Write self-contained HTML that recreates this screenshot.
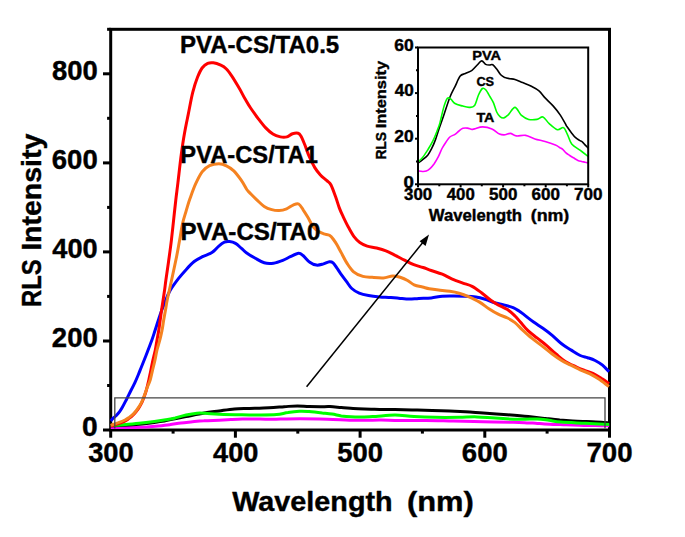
<!DOCTYPE html>
<html><head><meta charset="utf-8"><title>RLS Intensity</title>
<style>
html,body{margin:0;padding:0;background:#fff;}
body{width:685px;height:537px;overflow:hidden;}
svg{display:block;}
text{font-family:"Liberation Sans",sans-serif;font-weight:bold;fill:#000;stroke:#000;stroke-width:0.4px;stroke-linejoin:round;}
</style></head><body>
<svg width="685" height="537" viewBox="0 0 685 537">
<rect width="685" height="537" fill="#fff"/>

<g stroke="#000" stroke-width="3" fill="none">
<rect x="110.7" y="29.3" width="498.8" height="400.7"/>
<line x1="103.0" y1="430.0" x2="110.7" y2="430.0"/>
<line x1="107.1" y1="385.5" x2="110.7" y2="385.5"/>
<line x1="103.0" y1="341.0" x2="110.7" y2="341.0"/>
<line x1="107.1" y1="296.4" x2="110.7" y2="296.4"/>
<line x1="103.0" y1="251.9" x2="110.7" y2="251.9"/>
<line x1="107.1" y1="207.4" x2="110.7" y2="207.4"/>
<line x1="103.0" y1="162.9" x2="110.7" y2="162.9"/>
<line x1="107.1" y1="118.3" x2="110.7" y2="118.3"/>
<line x1="103.0" y1="73.8" x2="110.7" y2="73.8"/>
<line x1="107.1" y1="29.3" x2="110.7" y2="29.3"/>
<line x1="110.7" y1="430.0" x2="110.7" y2="437.7"/>
<line x1="173.1" y1="430.0" x2="173.1" y2="433.6"/>
<line x1="235.4" y1="430.0" x2="235.4" y2="437.7"/>
<line x1="297.8" y1="430.0" x2="297.8" y2="433.6"/>
<line x1="360.1" y1="430.0" x2="360.1" y2="437.7"/>
<line x1="422.4" y1="430.0" x2="422.4" y2="433.6"/>
<line x1="484.8" y1="430.0" x2="484.8" y2="437.7"/>
<line x1="547.1" y1="430.0" x2="547.1" y2="433.6"/>
<line x1="609.5" y1="430.0" x2="609.5" y2="437.7"/>
</g>
<g fill="none" stroke-width="3" stroke-linejoin="round" stroke-linecap="butt">
<path d="M110.7,427.4 C112.8,427.4 119.5,427.5 123.6,427.5 C127.6,427.5 131.2,427.5 135.0,427.4 C138.9,427.3 142.9,427.1 146.7,426.9 C150.6,426.6 154.4,426.3 158.2,426.0 C162.0,425.6 165.8,425.2 169.6,424.7 C173.4,424.2 177.2,423.5 181.0,423.0 C184.8,422.5 188.7,422.2 192.5,421.8 C196.3,421.4 199.5,421.0 203.9,420.8 C208.3,420.5 214.6,420.4 219.1,420.2 C223.6,420.0 227.0,419.8 230.9,419.6 C234.7,419.4 238.2,419.2 242.3,419.1 C246.4,419.0 251.0,419.0 255.5,419.0 C259.9,419.1 265.5,419.3 269.0,419.3 C272.4,419.3 270.8,419.3 276.0,419.2 C281.2,419.1 291.5,418.8 300.0,418.8 C308.6,418.8 319.0,419.0 327.3,419.2 C335.5,419.4 343.1,420.0 349.5,420.2 C356.0,420.4 360.7,420.4 366.0,420.3 C371.2,420.3 375.7,420.0 381.2,420.1 C386.7,420.1 391.6,420.5 399.1,420.5 C406.6,420.6 417.0,420.4 426.0,420.5 C435.1,420.5 443.8,420.9 453.3,421.1 C462.8,421.3 473.2,421.5 483.2,421.7 C493.2,421.9 506.1,422.1 513.4,422.3 C520.7,422.5 523.1,422.7 526.9,422.9 C530.6,423.0 532.7,423.1 535.6,423.2 C538.6,423.4 541.2,423.7 544.4,423.9 C547.7,424.1 551.7,424.2 555.3,424.4 C558.9,424.5 562.1,424.7 566.1,424.8 C570.1,425.0 575.3,425.2 579.3,425.3 C583.3,425.5 586.5,425.5 590.2,425.5 C593.8,425.6 597.8,425.6 601.0,425.7 C604.2,425.7 607.8,425.8 609.2,425.8" stroke="#ff00ff"/>
<path d="M110.7,425.8 C112.8,425.7 118.9,425.5 123.6,425.2 C128.3,425.0 134.6,424.7 139.1,424.3 C143.6,424.0 146.7,423.6 150.6,423.0 C154.4,422.5 158.2,422.0 162.0,421.3 C165.8,420.6 169.4,419.7 173.4,419.0 C177.4,418.2 180.9,417.6 186.0,416.6 C191.1,415.6 198.7,413.9 204.2,413.0 C209.7,412.0 214.1,411.6 219.1,410.9 C224.2,410.2 229.3,409.3 234.4,408.9 C239.5,408.4 243.9,408.6 249.6,408.4 C255.4,408.2 263.2,408.0 269.0,407.7 C274.7,407.5 279.5,407.0 284.2,406.7 C288.9,406.4 293.2,405.9 297.4,405.9 C301.5,405.9 305.2,406.5 309.1,406.6 C313.0,406.7 317.1,406.7 320.5,406.7 C324.0,406.7 326.4,406.5 329.9,406.6 C333.4,406.8 337.5,407.2 341.3,407.5 C345.2,407.8 349.2,408.3 353.1,408.6 C356.9,408.9 360.1,409.0 364.5,409.1 C368.9,409.3 374.7,409.3 379.7,409.4 C384.8,409.4 388.7,409.4 395.0,409.5 C401.2,409.6 409.5,409.9 417.2,410.1 C425.0,410.4 433.3,410.5 441.3,410.8 C449.3,411.1 458.3,411.4 465.3,411.7 C472.3,412.1 476.2,412.6 483.2,413.1 C490.2,413.6 499.7,414.2 507.2,414.7 C514.7,415.3 522.1,415.9 528.3,416.5 C534.5,417.2 541.1,418.0 544.4,418.4 C547.8,418.8 546.0,418.6 548.5,418.8 C551.1,419.1 555.7,419.5 559.7,419.9 C563.7,420.2 568.6,420.6 572.6,420.9 C576.6,421.2 580.4,421.3 583.7,421.4 C587.0,421.5 589.3,421.5 592.2,421.7 C595.1,421.9 598.2,422.1 601.0,422.3 C603.8,422.6 607.8,422.8 609.2,422.9" stroke="#000"/>
<path d="M110.7,425.6 C112.8,425.5 118.9,425.2 123.6,424.8 C128.3,424.4 134.0,423.9 139.1,423.3 C144.3,422.8 149.9,422.1 154.4,421.5 C158.8,420.9 162.3,420.3 165.8,419.7 C169.3,419.1 171.8,418.7 175.2,418.0 C178.5,417.2 182.4,415.8 186.0,415.0 C189.6,414.2 193.3,413.5 196.9,413.2 C200.4,412.9 203.4,413.2 207.1,413.4 C210.8,413.6 213.3,414.0 219.1,414.2 C224.9,414.4 235.0,414.6 242.0,414.7 C249.0,414.9 255.3,415.0 261.0,415.0 C266.8,415.0 272.1,415.0 276.6,414.6 C281.1,414.2 284.2,413.1 288.0,412.6 C291.8,412.0 295.9,411.5 299.4,411.3 C303.0,411.1 305.3,411.3 309.1,411.5 C312.9,411.8 318.5,412.5 322.3,413.0 C326.1,413.4 328.8,413.6 332.0,414.1 C335.1,414.6 338.2,415.4 341.3,415.9 C344.5,416.3 347.5,416.6 351.0,416.8 C354.5,417.0 358.3,417.1 362.4,417.0 C366.6,417.0 370.5,416.7 375.9,416.4 C381.3,416.0 388.6,415.0 395.0,415.0 C401.3,415.0 407.3,416.2 414.0,416.5 C420.7,416.9 427.6,417.2 435.1,417.3 C442.6,417.5 452.2,417.4 459.2,417.3 C466.1,417.2 471.0,416.7 477.0,416.9 C483.0,417.0 488.2,417.7 495.2,418.1 C502.2,418.6 512.3,419.2 519.2,419.3 C526.2,419.5 532.1,418.8 537.1,418.9 C542.1,419.1 545.1,419.8 549.1,420.3 C553.1,420.9 555.1,421.6 561.1,422.1 C567.2,422.6 577.5,422.9 585.5,423.3 C593.5,423.7 605.3,424.4 609.2,424.6" stroke="#00ff00"/>
<path d="M110.8,420.9 C111.2,420.5 112.0,419.3 112.9,418.4 C113.8,417.5 115.2,416.7 116.3,415.5 C117.4,414.3 118.8,412.7 119.8,411.3 C120.8,409.9 121.3,409.1 122.5,407.0 C123.7,404.9 125.3,401.7 126.7,399.0 C128.1,396.3 129.4,393.5 130.8,390.8 C132.2,388.1 133.6,385.4 134.9,382.6 C136.2,379.8 137.6,376.4 138.6,374.0 C139.6,371.6 140.2,370.0 141.0,368.0 C141.8,366.0 142.6,364.0 143.4,362.0 C144.2,360.0 145.0,358.0 145.8,356.0 C146.6,354.0 147.1,352.7 148.1,350.0 C149.1,347.3 150.7,343.3 151.9,340.0 C153.1,336.7 154.1,333.3 155.2,330.0 C156.3,326.7 157.3,323.3 158.4,320.0 C159.5,316.7 160.6,313.3 161.8,310.0 C163.0,306.7 164.7,302.7 165.8,300.0 C166.9,297.3 167.3,296.0 168.3,294.0 C169.3,292.0 170.1,290.4 171.8,287.8 C173.5,285.2 176.0,281.7 178.4,278.6 C180.8,275.5 183.7,272.2 186.3,269.4 C188.9,266.5 191.6,263.6 194.2,261.5 C196.8,259.4 199.4,258.2 202.0,256.9 C204.6,255.6 207.9,254.7 209.9,253.7 C211.9,252.7 212.4,252.3 213.9,251.0 C215.4,249.7 217.3,247.3 219.1,245.8 C220.8,244.3 222.7,242.8 224.4,242.1 C226.2,241.4 227.8,241.4 229.6,241.6 C231.4,241.8 233.5,242.3 235.5,243.4 C237.5,244.5 239.6,246.8 241.5,248.4 C243.4,250.0 244.5,251.4 246.7,253.0 C248.9,254.6 252.0,256.4 254.9,258.0 C257.8,259.6 261.1,261.9 264.2,262.8 C267.3,263.7 270.4,263.6 273.5,263.2 C276.6,262.8 280.0,261.5 282.8,260.4 C285.6,259.3 287.7,257.9 290.3,256.7 C292.9,255.5 296.5,253.5 298.7,253.3 C300.9,253.2 301.4,254.3 303.3,255.8 C305.2,257.3 307.6,260.8 309.8,262.3 C312.0,263.9 314.2,264.8 316.4,265.1 C318.6,265.4 320.7,264.7 322.9,264.1 C325.1,263.5 327.7,261.9 329.4,261.7 C331.1,261.5 331.9,261.8 333.1,262.8 C334.3,263.8 335.6,266.1 336.8,267.9 C338.1,269.7 339.0,271.4 340.6,273.6 C342.2,275.8 344.3,278.6 346.2,281.1 C348.1,283.6 349.6,286.5 351.8,288.5 C354.0,290.5 356.4,292.0 359.2,293.2 C362.0,294.4 365.1,295.0 368.5,295.6 C371.9,296.2 376.0,296.6 379.7,296.9 C383.4,297.2 387.5,297.2 390.9,297.5 C394.3,297.8 397.1,298.1 400.2,298.4 C403.3,298.7 406.4,299.1 409.5,299.1 C412.6,299.1 415.2,298.6 418.8,298.4 C422.4,298.2 427.3,298.3 431.2,297.9 C435.1,297.5 438.6,296.5 442.3,296.2 C446.0,295.9 449.8,296.0 453.5,296.0 C457.2,296.0 461.0,296.1 464.7,296.2 C468.4,296.3 472.5,296.4 475.9,296.9 C479.3,297.4 482.1,298.3 485.2,299.3 C488.3,300.3 491.4,301.8 494.5,302.7 C497.6,303.6 500.7,304.1 503.8,304.9 C506.9,305.7 510.6,306.7 513.1,307.7 C515.6,308.7 517.1,309.8 519.0,311.0 C520.9,312.2 521.9,313.1 524.3,314.9 C526.7,316.7 530.5,319.8 533.6,322.0 C536.7,324.2 539.8,326.1 542.9,328.3 C546.0,330.5 549.1,332.8 552.2,335.4 C555.3,338.0 558.5,341.4 561.6,343.8 C564.7,346.2 567.8,347.9 570.9,349.9 C574.0,351.8 577.4,354.2 580.2,355.5 C583.0,356.8 585.1,356.9 587.6,357.7 C590.1,358.5 592.6,359.2 595.1,360.5 C597.6,361.8 600.2,363.3 602.5,365.2 C604.8,367.1 607.9,370.6 609.0,371.7" stroke="#0000ff"/>
<path d="M110.8,426.0 C111.7,425.7 113.9,425.1 116.3,424.3 C118.7,423.5 122.9,421.9 125.0,421.0 C127.1,420.1 127.5,419.5 128.7,418.6 C129.9,417.7 131.2,416.8 132.4,415.6 C133.7,414.4 135.1,412.9 136.2,411.5 C137.3,410.1 138.2,409.0 139.1,407.5 C140.0,406.0 141.1,404.0 141.8,402.6 C142.5,401.2 142.6,400.9 143.3,399.0 C144.0,397.1 145.2,394.2 146.1,391.0 C147.0,387.8 148.1,383.1 148.8,380.0 C149.5,376.9 149.8,375.4 150.4,372.5 C151.0,369.6 151.6,366.2 152.4,362.5 C153.2,358.8 154.5,353.8 155.3,350.0 C156.1,346.2 156.4,343.3 157.0,340.0 C157.6,336.7 158.3,333.3 158.8,330.0 C159.3,326.7 159.7,323.3 160.2,320.0 C160.7,316.7 161.1,313.3 161.6,310.0 C162.1,306.7 162.6,303.3 163.1,300.0 C163.6,296.7 164.1,293.3 164.6,290.0 C165.1,286.7 165.2,284.7 165.9,280.0 C166.6,275.3 167.6,268.6 168.5,262.0 C169.4,255.4 170.6,247.2 171.4,240.2 C172.2,233.2 172.9,226.8 173.6,220.1 C174.3,213.4 175.1,206.2 175.8,200.0 C176.5,193.8 177.0,190.4 177.9,182.9 C178.8,175.4 180.1,163.3 181.2,155.0 C182.3,146.7 183.3,139.9 184.5,133.2 C185.7,126.5 186.8,121.4 188.2,114.6 C189.6,107.8 191.2,98.4 192.8,92.2 C194.4,86.0 195.9,81.3 197.5,77.3 C199.1,73.3 200.4,70.3 202.1,68.0 C203.8,65.7 205.8,64.3 207.7,63.4 C209.6,62.5 211.1,62.5 213.3,62.8 C215.5,63.1 218.6,64.2 220.8,65.2 C223.0,66.2 224.5,67.1 226.4,69.0 C228.3,70.9 229.8,73.2 232.0,76.4 C234.2,79.7 237.2,84.8 239.4,88.5 C241.6,92.2 243.1,95.5 245.0,98.8 C246.9,102.0 248.4,104.8 250.6,108.0 C252.8,111.2 255.5,115.0 258.0,118.3 C260.5,121.6 263.0,125.0 265.5,127.6 C268.0,130.2 270.4,132.5 272.9,134.1 C275.4,135.7 278.1,136.4 280.4,136.9 C282.7,137.4 284.9,137.4 286.9,136.9 C288.9,136.4 290.6,134.3 292.5,133.7 C294.4,133.1 296.7,132.8 298.1,133.2 C299.5,133.6 299.8,134.2 300.9,136.0 C302.0,137.8 303.2,140.9 304.6,144.3 C306.0,147.7 307.5,152.6 309.2,156.5 C310.9,160.4 312.9,164.5 314.8,167.6 C316.7,170.7 318.4,172.8 320.4,175.0 C322.4,177.2 325.1,179.0 326.9,180.7 C328.7,182.4 329.6,182.3 331.0,185.0 C332.4,187.7 334.2,193.0 335.6,196.8 C337.0,200.6 338.1,204.7 339.3,207.9 C340.5,211.2 341.4,213.0 343.0,216.3 C344.6,219.6 346.7,224.1 348.6,227.5 C350.5,230.9 352.3,234.3 354.2,236.8 C356.1,239.3 357.6,240.9 359.8,242.4 C362.0,243.9 364.4,245.2 367.2,246.1 C370.0,247.0 373.5,247.2 376.6,248.0 C379.7,248.8 382.8,249.6 385.9,250.8 C389.0,252.0 392.1,253.8 395.2,255.4 C398.3,256.9 401.4,258.6 404.5,260.1 C407.6,261.7 410.7,263.5 413.8,264.7 C416.9,265.9 420.2,266.5 423.1,267.5 C426.0,268.5 428.0,269.4 431.2,270.5 C434.4,271.6 438.9,272.8 442.3,274.2 C445.7,275.6 448.3,277.4 451.7,278.9 C455.1,280.4 459.4,281.9 462.8,283.1 C466.2,284.3 469.0,284.7 472.1,286.3 C475.2,287.9 478.4,290.5 481.5,292.8 C484.6,295.1 488.0,298.3 490.8,300.3 C493.6,302.3 495.4,303.3 498.2,304.9 C501.0,306.4 504.7,307.8 507.5,309.6 C510.3,311.5 512.8,313.9 515.0,316.0 C517.2,318.1 518.4,319.9 520.6,322.3 C522.8,324.8 525.2,328.1 528.0,330.7 C530.8,333.3 534.2,335.7 537.3,338.2 C540.4,340.7 543.6,343.0 546.7,345.6 C549.8,348.2 552.9,351.4 556.0,354.0 C559.1,356.6 561.9,359.3 565.3,361.5 C568.7,363.7 573.1,365.4 576.5,367.0 C579.9,368.6 582.7,369.6 585.8,370.8 C588.9,372.1 592.3,373.1 595.1,374.5 C597.9,375.9 600.2,377.6 602.5,379.1 C604.8,380.7 607.9,383.0 609.0,383.8" stroke="#ff0000"/>
<path d="M110.8,425.3 C111.7,425.0 114.8,423.8 116.3,423.3 C117.8,422.8 118.5,422.8 120.0,422.2 C121.5,421.6 123.5,420.7 125.0,420.0 C126.5,419.3 127.5,418.7 128.7,417.8 C129.9,416.9 131.2,416.0 132.4,414.8 C133.7,413.6 135.1,412.1 136.2,410.7 C137.3,409.3 138.2,408.1 139.1,406.6 C140.0,405.1 141.1,403.3 141.8,401.8 C142.6,400.3 143.0,399.3 143.6,397.7 C144.2,396.1 144.9,394.1 145.5,392.4 C146.1,390.6 146.5,389.3 147.3,387.2 C148.1,385.1 149.3,382.9 150.2,380.0 C151.1,377.1 151.8,373.3 152.6,370.0 C153.4,366.7 154.3,363.3 155.0,360.0 C155.7,356.7 156.2,353.3 157.0,350.0 C157.8,346.7 159.0,343.3 159.8,340.0 C160.7,336.7 161.4,333.3 162.1,330.0 C162.8,326.7 163.1,323.3 163.7,320.0 C164.3,316.7 164.9,313.3 165.5,310.0 C166.1,306.7 166.5,303.3 167.2,300.0 C167.8,296.7 168.7,293.3 169.4,290.0 C170.1,286.7 170.4,285.6 171.6,280.0 C172.8,274.4 175.3,263.1 176.6,256.5 C177.9,249.9 178.6,245.6 179.6,240.2 C180.6,234.8 181.4,228.8 182.5,223.8 C183.6,218.8 185.1,214.6 186.3,210.4 C187.6,206.2 188.4,202.9 190.0,198.5 C191.6,194.1 193.6,188.3 195.6,183.9 C197.6,179.5 199.8,174.9 202.1,171.8 C204.4,168.8 206.8,166.9 209.6,165.6 C212.4,164.3 216.1,163.8 218.9,163.8 C221.7,163.8 223.9,164.6 226.4,165.8 C228.9,167.0 231.3,168.4 233.8,170.8 C236.3,173.2 239.0,177.0 241.2,180.1 C243.4,183.2 245.5,187.4 246.8,189.5 C248.2,191.6 247.6,190.7 249.3,192.4 C251.0,194.1 254.3,197.6 256.8,199.9 C259.3,202.2 261.7,204.8 264.2,206.4 C266.7,208.0 269.2,208.9 271.7,209.6 C274.2,210.3 276.6,210.6 279.1,210.5 C281.6,210.4 284.3,209.7 286.6,208.8 C288.9,207.9 291.1,205.9 293.1,205.1 C295.1,204.3 297.0,203.2 298.7,204.0 C300.4,204.8 301.8,207.8 303.3,210.1 C304.9,212.4 306.4,214.9 308.0,217.6 C309.6,220.2 310.9,223.7 312.6,226.0 C314.3,228.3 316.3,229.9 318.2,231.2 C320.1,232.5 321.9,233.1 323.8,233.8 C325.7,234.5 327.8,234.4 329.4,235.3 C330.9,236.2 331.9,237.4 333.1,239.0 C334.3,240.6 335.5,242.3 336.8,244.6 C338.1,246.9 339.5,249.5 341.2,252.6 C342.9,255.7 345.0,260.2 347.1,263.4 C349.2,266.6 351.0,269.6 353.6,271.8 C356.2,274.0 359.8,275.5 362.9,276.4 C366.0,277.3 368.8,277.1 372.2,277.3 C375.6,277.6 380.0,278.1 383.4,277.9 C386.8,277.7 389.9,276.0 392.7,275.9 C395.5,275.8 397.7,276.5 400.2,277.3 C402.7,278.1 405.3,279.2 407.6,280.5 C409.9,281.8 411.6,283.7 414.1,284.8 C416.6,285.9 420.0,286.4 422.5,287.0 C425.0,287.6 426.6,288.2 429.3,288.7 C432.0,289.2 435.2,289.6 438.6,290.0 C442.0,290.4 446.4,290.8 449.8,291.3 C453.2,291.8 456.0,292.3 459.1,293.2 C462.2,294.1 465.0,295.1 468.4,296.6 C471.8,298.1 476.2,300.1 479.6,302.1 C483.0,304.1 485.8,306.7 488.9,308.7 C492.0,310.7 495.1,312.6 498.2,314.2 C501.3,315.8 504.7,316.6 507.5,318.0 C510.3,319.4 512.5,320.6 515.0,322.6 C517.5,324.6 519.6,327.2 522.4,329.8 C525.2,332.4 528.4,335.4 531.8,338.2 C535.2,341.0 539.5,344.0 542.9,346.6 C546.3,349.2 549.1,351.7 552.2,354.0 C555.3,356.3 558.5,358.6 561.6,360.5 C564.7,362.4 567.8,363.6 570.9,365.2 C574.0,366.8 577.1,368.4 580.2,369.8 C583.3,371.2 586.4,372.1 589.5,373.6 C592.6,375.2 595.5,376.9 598.8,379.1 C602.0,381.3 607.3,385.4 609.0,386.6" stroke="#f58220"/>
</g>
<path d="M114.8,428.5 V397.8 H605 V428.5" fill="none" stroke="#444" stroke-width="1.3"/>
<line x1="306.6" y1="386.8" x2="424" y2="241" stroke="#000" stroke-width="1.5"/>
<path d="M429,234.5 L419.6,241.3 L425.6,246.1 Z" fill="#000"/>
<text x="82.09" y="435.7" font-size="26.8" textLength="15.67" lengthAdjust="spacingAndGlyphs" xml:space="preserve">0</text>
<text x="51.85" y="346.66" font-size="26.8" textLength="45.88" lengthAdjust="spacingAndGlyphs" xml:space="preserve">200</text>
<text x="52.39" y="257.61" font-size="26.8" textLength="45.33" lengthAdjust="spacingAndGlyphs" xml:space="preserve">400</text>
<text x="51.79" y="168.57" font-size="26.8" textLength="45.94" lengthAdjust="spacingAndGlyphs" xml:space="preserve">600</text>
<text x="51.93" y="79.52" font-size="26.8" textLength="45.80" lengthAdjust="spacingAndGlyphs" xml:space="preserve">800</text>
<text x="88.17" y="462" font-size="27" textLength="45.55" lengthAdjust="spacingAndGlyphs" xml:space="preserve">300</text>
<text x="213.09" y="462" font-size="27" textLength="45.33" lengthAdjust="spacingAndGlyphs" xml:space="preserve">400</text>
<text x="337.36" y="462" font-size="27" textLength="45.77" lengthAdjust="spacingAndGlyphs" xml:space="preserve">500</text>
<text x="461.89" y="462" font-size="27" textLength="45.94" lengthAdjust="spacingAndGlyphs" xml:space="preserve">600</text>
<text x="586.41" y="462" font-size="27" textLength="46.12" lengthAdjust="spacingAndGlyphs" xml:space="preserve">700</text>
<text x="-1.59" y="0" font-size="28" textLength="47.62" lengthAdjust="spacingAndGlyphs" transform="translate(40.6,305.4) rotate(-90)">RLS</text>
<text x="-1.91" y="0" font-size="28" textLength="117.16" lengthAdjust="spacingAndGlyphs" transform="translate(40.6,248.9) rotate(-90)">Intensity</text>
<text x="232.17" y="510.7" font-size="28.5" textLength="160.50" lengthAdjust="spacingAndGlyphs" xml:space="preserve">Wavelength</text>
<text x="406.96" y="510.7" font-size="28.5" textLength="66.88" lengthAdjust="spacingAndGlyphs" xml:space="preserve">(nm)</text>
<text x="179.93" y="53.1" font-size="23.2" textLength="159.33" lengthAdjust="spacingAndGlyphs" xml:space="preserve">PVA-CS/TA0.5</text>
<text x="180.35" y="162.8" font-size="23.2" textLength="137.49" lengthAdjust="spacingAndGlyphs" xml:space="preserve">PVA-CS/TA1</text>
<text x="180.53" y="239.6" font-size="23.2" textLength="139.94" lengthAdjust="spacingAndGlyphs" xml:space="preserve">PVA-CS/TA0</text>
<g fill="none" stroke-width="1.6" stroke-linejoin="round" stroke-linecap="butt">
<path d="M418.0,170.9 C418.7,171.0 421.0,171.5 422.4,171.5 C423.8,171.5 425.0,171.6 426.3,171.1 C427.6,170.6 429.0,169.5 430.3,168.3 C431.6,167.1 432.9,165.5 434.2,163.7 C435.5,161.8 436.8,159.7 438.1,157.2 C439.4,154.7 440.7,151.0 442.0,148.5 C443.3,146.0 444.6,144.1 445.9,142.2 C447.2,140.3 448.3,138.3 449.8,137.0 C451.3,135.7 453.5,135.3 455.0,134.3 C456.5,133.3 457.7,132.0 459.0,131.0 C460.3,130.0 461.5,128.8 462.9,128.3 C464.3,127.8 465.9,127.9 467.4,128.1 C468.9,128.3 470.8,129.3 472.0,129.4 C473.2,129.5 472.6,129.3 474.4,128.9 C476.2,128.5 479.7,126.9 482.6,126.9 C485.5,126.9 489.1,127.7 491.9,128.9 C494.7,130.1 497.3,133.0 499.5,134.0 C501.7,135.0 503.3,134.9 505.1,134.8 C506.9,134.7 508.4,133.2 510.3,133.4 C512.2,133.6 513.9,135.6 516.4,135.9 C518.9,136.2 522.5,134.9 525.6,135.4 C528.7,135.9 531.6,137.9 534.9,138.9 C538.1,139.9 541.7,140.6 545.1,141.6 C548.5,142.6 552.9,144.1 555.4,145.1 C557.9,146.1 558.7,146.9 560.0,147.7 C561.3,148.4 562.0,148.7 563.0,149.6 C564.0,150.5 564.9,151.9 566.0,152.9 C567.1,153.9 568.5,154.7 569.7,155.5 C570.9,156.3 572.0,157.0 573.4,157.8 C574.8,158.6 576.5,159.8 577.9,160.4 C579.3,161.0 580.4,161.2 581.6,161.5 C582.8,161.8 584.2,161.9 585.3,162.2 C586.4,162.4 587.6,162.9 588.1,163.0" stroke="#ff00ff"/>
<path d="M418.0,163.0 C418.7,162.5 420.8,161.1 422.4,159.8 C424.0,158.5 426.2,157.0 427.7,155.2 C429.2,153.3 430.3,151.3 431.6,148.7 C432.9,146.1 434.2,143.1 435.5,139.6 C436.8,136.1 438.0,131.8 439.4,127.8 C440.8,123.8 441.9,120.7 443.7,115.6 C445.4,110.5 448.0,102.0 449.9,97.2 C451.8,92.4 453.3,90.1 455.0,86.6 C456.7,83.1 458.5,78.3 460.2,76.1 C461.9,73.9 463.4,74.5 465.4,73.5 C467.4,72.5 470.0,71.7 472.0,70.3 C474.0,68.9 475.6,66.6 477.2,65.0 C478.8,63.4 480.3,61.0 481.7,60.9 C483.1,60.8 484.4,63.7 485.7,64.4 C487.0,65.1 488.4,65.0 489.6,65.0 C490.8,65.0 491.6,64.0 492.8,64.7 C494.0,65.4 495.4,67.3 496.7,69.0 C498.0,70.7 499.4,73.4 500.7,74.8 C502.0,76.2 503.1,76.8 504.6,77.4 C506.1,78.1 508.1,78.4 509.8,78.7 C511.5,79.0 512.9,78.8 515.0,79.4 C517.1,80.1 520.0,81.5 522.6,82.6 C525.2,83.7 528.1,84.6 530.8,86.0 C533.5,87.4 536.6,88.8 539.0,90.8 C541.4,92.8 542.7,95.4 545.1,97.9 C547.5,100.5 550.7,103.2 553.3,106.1 C555.9,109.0 558.4,112.2 560.5,115.4 C562.6,118.6 564.9,123.0 566.0,125.0 C567.1,127.0 566.5,126.0 567.4,127.2 C568.3,128.4 569.8,130.7 571.2,132.4 C572.6,134.2 574.2,136.4 575.6,137.7 C577.0,139.0 578.3,139.6 579.4,140.3 C580.5,141.0 581.3,141.0 582.3,141.8 C583.3,142.6 584.3,144.1 585.3,145.1 C586.3,146.1 587.6,147.6 588.1,148.1" stroke="#000"/>
<path d="M418.0,162.0 C418.7,161.3 420.8,159.8 422.4,157.8 C424.0,155.8 425.9,152.8 427.7,150.0 C429.4,147.2 431.4,144.0 432.9,140.9 C434.4,137.8 435.6,134.8 436.8,131.7 C438.0,128.6 438.9,126.6 440.0,122.6 C441.1,118.5 442.5,111.5 443.7,107.4 C444.9,103.3 446.2,99.6 447.4,98.2 C448.6,96.8 449.6,98.3 450.9,99.2 C452.2,100.1 453.0,102.3 455.0,103.5 C457.0,104.7 460.4,105.4 462.8,106.1 C465.2,106.8 467.3,107.5 469.3,107.4 C471.3,107.3 473.1,107.6 474.6,105.5 C476.1,103.4 477.2,97.8 478.5,95.0 C479.8,92.2 481.2,89.4 482.4,88.5 C483.6,87.6 484.4,88.4 485.7,89.8 C487.0,91.2 488.9,94.8 490.2,97.0 C491.5,99.2 492.4,100.4 493.5,102.9 C494.6,105.4 495.6,109.7 496.7,112.0 C497.8,114.3 498.8,115.6 500.0,116.6 C501.2,117.6 502.5,118.2 503.9,117.9 C505.3,117.6 506.6,116.3 508.5,114.6 C510.4,112.8 512.8,107.3 515.0,107.4 C517.2,107.5 519.2,113.4 521.5,115.4 C523.8,117.4 526.1,118.7 528.7,119.4 C531.3,120.1 534.5,119.8 536.9,119.4 C539.3,119.0 541.0,116.3 543.0,117.0 C545.0,117.7 546.8,121.5 549.2,123.6 C551.6,125.7 555.0,129.0 557.4,129.7 C559.8,130.4 561.8,126.7 563.5,127.6 C565.2,128.4 566.2,132.1 567.6,134.8 C569.0,137.5 569.6,141.4 571.7,144.0 C573.8,146.6 577.3,148.1 580.0,150.2 C582.7,152.3 586.8,155.4 588.1,156.4" stroke="#00ff00"/>
</g>
<g stroke="#000" stroke-width="2" fill="none">
<rect x="418.0" y="47.5" width="170.2" height="136.8"/>
<line x1="415.0" y1="184.3" x2="418.0" y2="184.3"/>
<line x1="416.0" y1="161.5" x2="418.0" y2="161.5"/>
<line x1="415.0" y1="138.7" x2="418.0" y2="138.7"/>
<line x1="416.0" y1="115.9" x2="418.0" y2="115.9"/>
<line x1="415.0" y1="93.1" x2="418.0" y2="93.1"/>
<line x1="416.0" y1="70.3" x2="418.0" y2="70.3"/>
<line x1="415.0" y1="47.5" x2="418.0" y2="47.5"/>
<line x1="418.0" y1="184.3" x2="418.0" y2="187.3"/>
<line x1="439.3" y1="184.3" x2="439.3" y2="186.3"/>
<line x1="460.6" y1="184.3" x2="460.6" y2="187.3"/>
<line x1="481.8" y1="184.3" x2="481.8" y2="186.3"/>
<line x1="503.1" y1="184.3" x2="503.1" y2="187.3"/>
<line x1="524.4" y1="184.3" x2="524.4" y2="186.3"/>
<line x1="545.7" y1="184.3" x2="545.7" y2="187.3"/>
<line x1="566.9" y1="184.3" x2="566.9" y2="186.3"/>
<line x1="588.2" y1="184.3" x2="588.2" y2="187.3"/>
</g>
<text x="403.41" y="187.5" font-size="16.3" textLength="10.41" lengthAdjust="spacingAndGlyphs" xml:space="preserve">0</text>
<text x="394.34" y="141.9" font-size="16.3" textLength="19.42" lengthAdjust="spacingAndGlyphs" xml:space="preserve">20</text>
<text x="394.69" y="96.3" font-size="16.3" textLength="19.06" lengthAdjust="spacingAndGlyphs" xml:space="preserve">40</text>
<text x="394.31" y="50.7" font-size="16.3" textLength="19.46" lengthAdjust="spacingAndGlyphs" xml:space="preserve">60</text>
<text x="404.06" y="200.2" font-size="16.3" textLength="28.18" lengthAdjust="spacingAndGlyphs" xml:space="preserve">300</text>
<text x="446.75" y="200.2" font-size="16.3" textLength="28.04" lengthAdjust="spacingAndGlyphs" xml:space="preserve">400</text>
<text x="489.03" y="200.2" font-size="16.3" textLength="28.32" lengthAdjust="spacingAndGlyphs" xml:space="preserve">500</text>
<text x="531.48" y="200.2" font-size="16.3" textLength="28.42" lengthAdjust="spacingAndGlyphs" xml:space="preserve">600</text>
<text x="573.92" y="200.2" font-size="16.3" textLength="28.54" lengthAdjust="spacingAndGlyphs" xml:space="preserve">700</text>
<text x="-0.93" y="0" font-size="15.5" textLength="27.67" lengthAdjust="spacingAndGlyphs" transform="translate(385.7,158.7) rotate(-90)">RLS</text>
<text x="-1.09" y="0" font-size="15.5" textLength="67.28" lengthAdjust="spacingAndGlyphs" transform="translate(385.7,127.2) rotate(-90)">Intensity</text>
<text x="428.88" y="221" font-size="16" textLength="93.04" lengthAdjust="spacingAndGlyphs" xml:space="preserve">Wavelength</text>
<text x="530.71" y="221" font-size="16" textLength="38.57" lengthAdjust="spacingAndGlyphs" xml:space="preserve">(nm)</text>
<text x="472.26" y="59.9" font-size="13.5" textLength="28.91" lengthAdjust="spacingAndGlyphs" xml:space="preserve">PVA</text>
<text x="476.38" y="86" font-size="13.5" textLength="17.72" lengthAdjust="spacingAndGlyphs" xml:space="preserve">CS</text>
<text x="476.45" y="122.2" font-size="13.5" textLength="18.01" lengthAdjust="spacingAndGlyphs" xml:space="preserve">TA</text>
</svg>
</body></html>
